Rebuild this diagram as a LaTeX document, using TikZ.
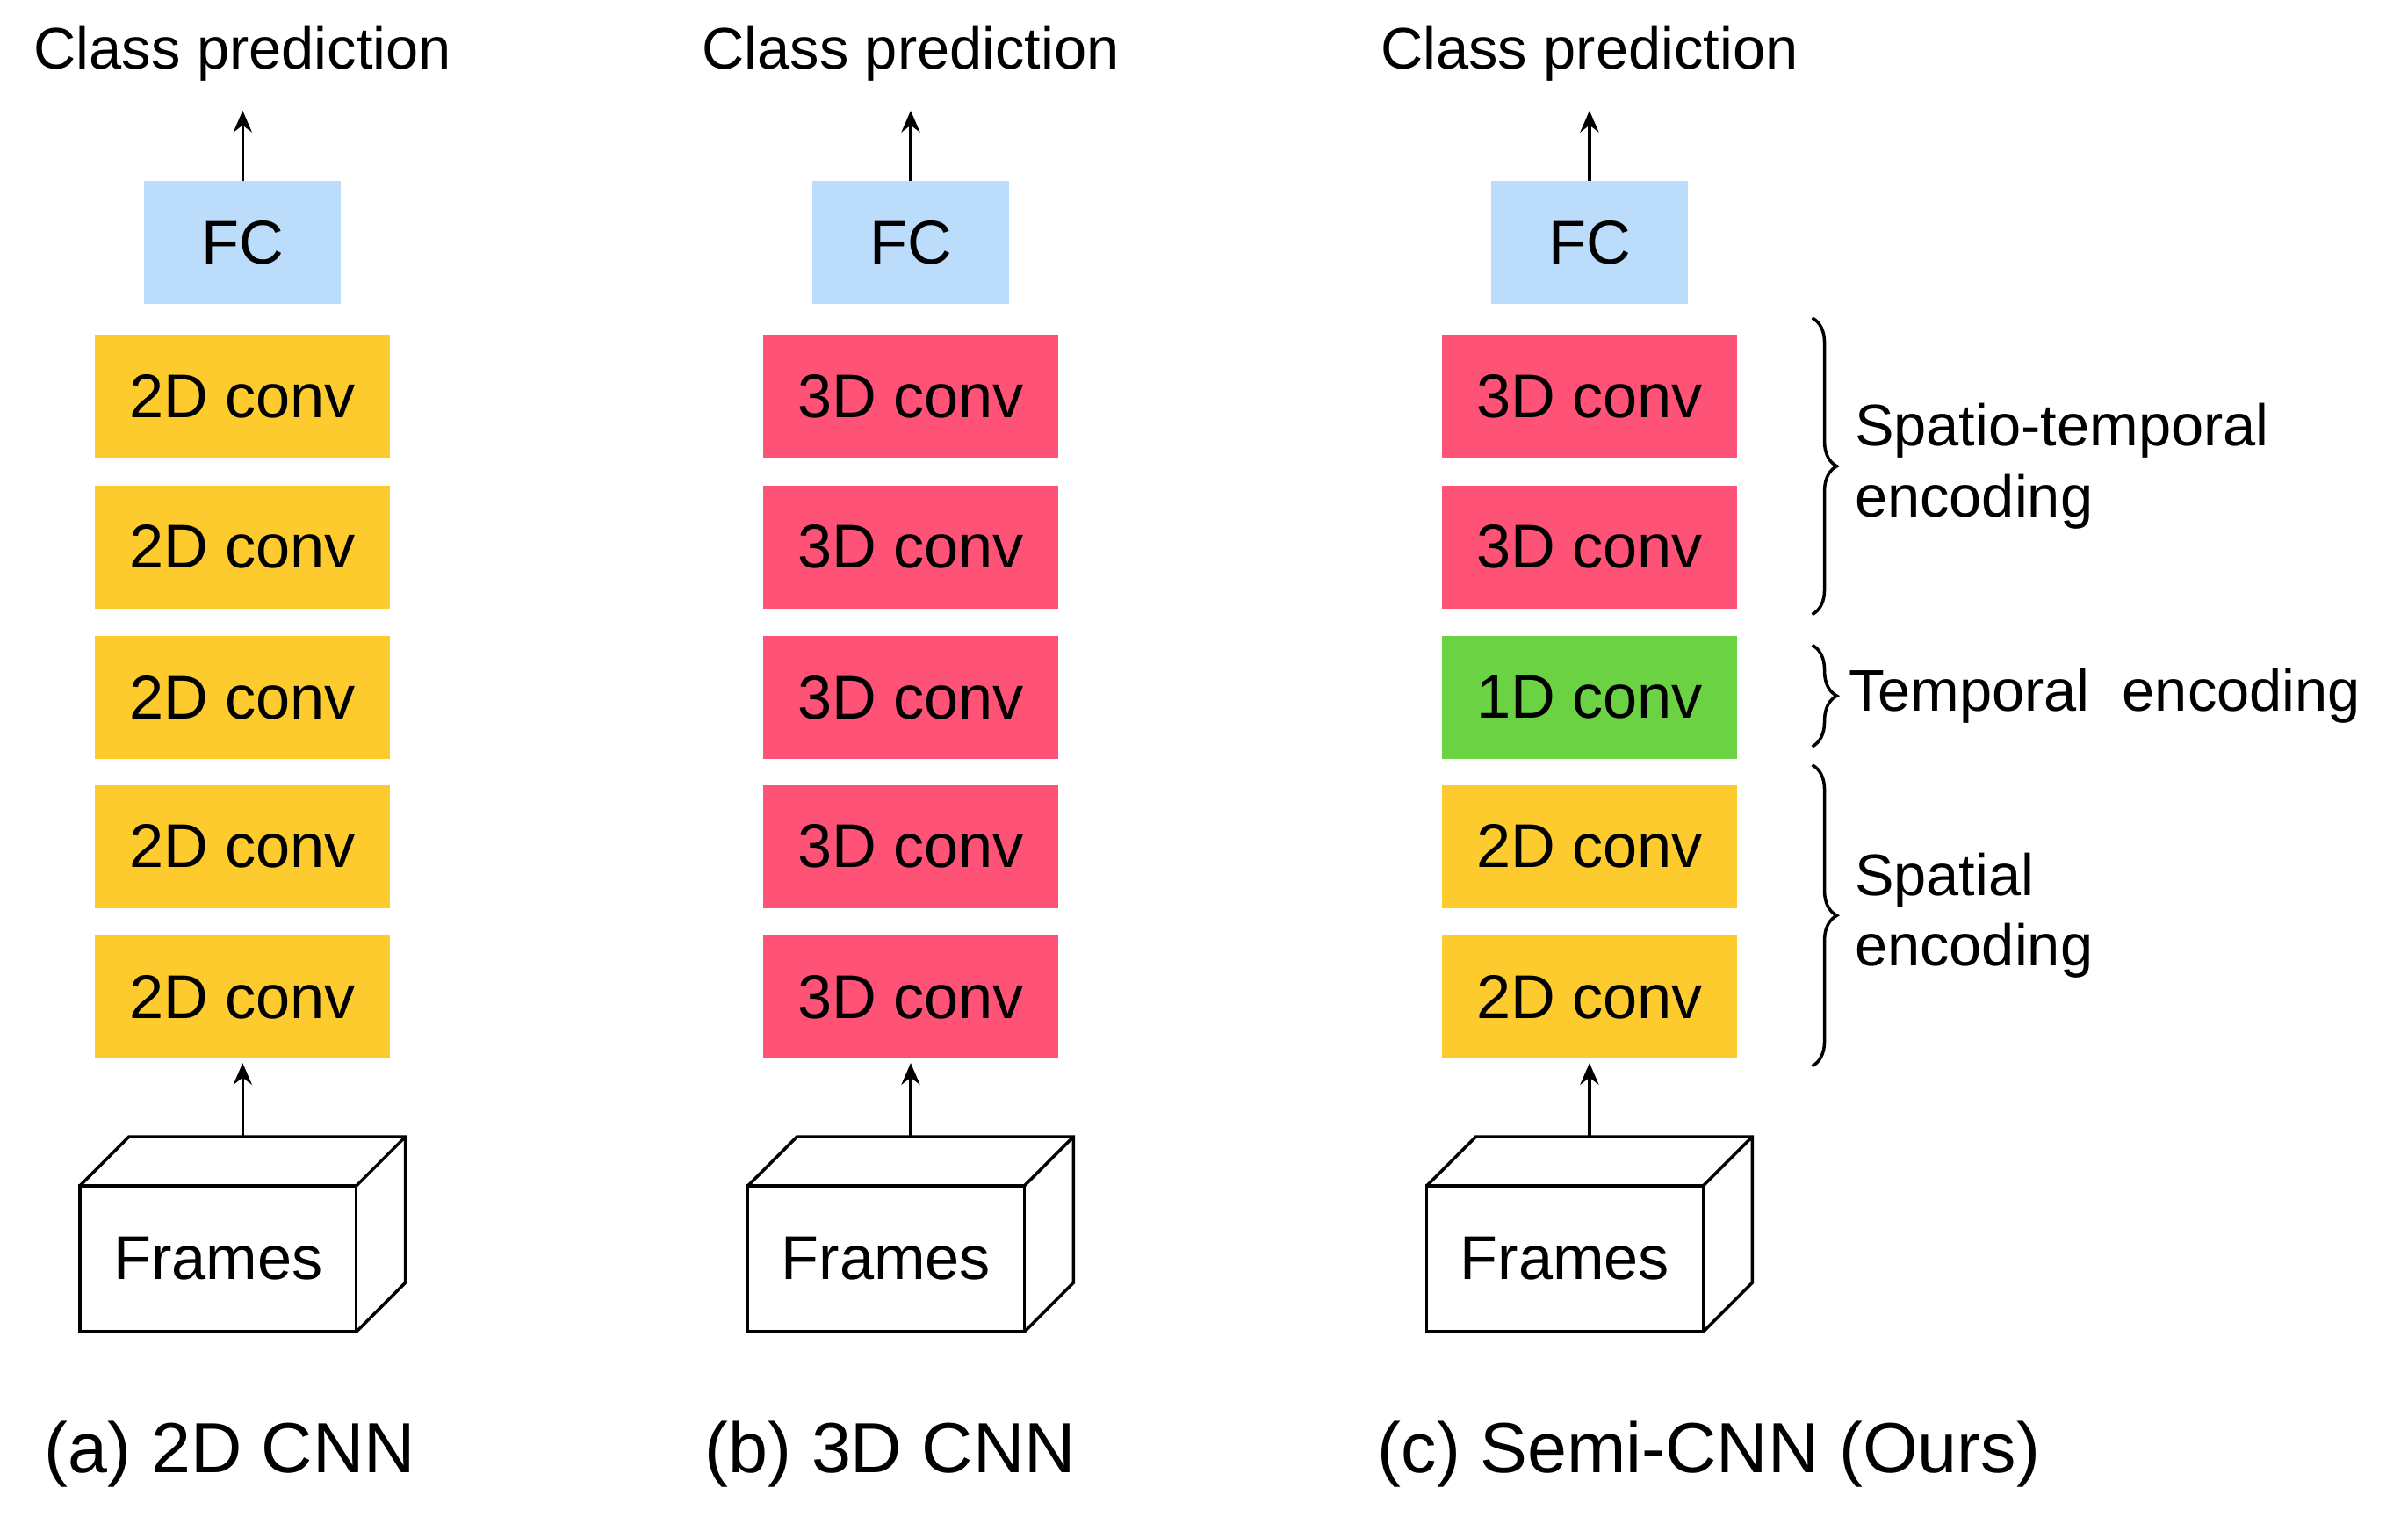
\documentclass[tikz,border=0pt]{standalone}
\usepackage{fontspec}
\setmainfont{Liberation Sans}
\usetikzlibrary{decorations.pathreplacing,arrows.meta}
\definecolor{cyel}{HTML}{FECB2F}
\definecolor{cred}{HTML}{FF5277}
\definecolor{cgrn}{HTML}{6BD343}
\definecolor{cblu}{HTML}{BBDDFB}
\begin{document}
\begin{tikzpicture}[x=0.01749cm,y=-0.01749cm,
  conv/.style={minimum width=3.358cm,minimum height=1.399cm,inner sep=0,font=\fontsize{20}{24}\selectfont},
  fc/.style={fill=cblu,minimum width=2.239cm,minimum height=1.399cm,inner sep=0,font=\fontsize{20}{24}\selectfont},
  lbl/.style={font=\fontsize{19}{23}\selectfont},
  captn/.style={font=\fontsize{23}{27}\selectfont,anchor=west},
  arr/.style={-{Stealth[length=7pt,width=6pt]},line width=1pt},
  br/.style={decorate,decoration={brace,amplitude=8pt},line width=1pt}]
\useasboundingbox (0,0) rectangle (1568,987);
\foreach \n/\cx/\ca/\cb/\cc/\cd/\ce/\ta/\tb/\tc/\td/\te/\capt/\capx in {
  a/158/cyel/cyel/cyel/cyel/cyel/2D/2D/2D/2D/2D/{(a) 2D CNN}/22,
  b/593/cred/cred/cred/cred/cred/3D/3D/3D/3D/3D/{(b) 3D CNN}/452,
  c/1035/cred/cred/cgrn/cyel/cyel/3D/3D/1D/2D/2D/{(c) Semi-CNN (Ours)}/890}{
  \node[lbl] (cp\n) at (\cx,35) {Class prediction};
  \node[fc] (fc\n) at (\cx,158) {FC};
  \node[conv,fill=\ca] (c1\n) at (\cx,258) {\ta\ conv};
  \node[conv,fill=\cb] (c2\n) at (\cx,356) {\tb\ conv};
  \node[conv,fill=\cc] (c3\n) at (\cx,454) {\tc\ conv};
  \node[conv,fill=\cd] (c4\n) at (\cx,551) {\td\ conv};
  \node[conv,fill=\ce] (c5\n) at (\cx,649) {\te\ conv};
  \draw[line width=1pt] (\cx-106,772) -- (\cx-74,740) -- (\cx+106,740) -- (\cx+106,835) -- (\cx+74,867)
     (\cx+74,772) -- (\cx+106,740);
  \node[draw,line width=1pt,minimum width=3.148cm,minimum height=1.662cm,inner sep=0,
        font=\fontsize{20}{24}\selectfont] (fr\n) at (\cx-16,819.5) {Frames};
  \coordinate (ft\n) at (\cx,740);
  \draw[arr] (ft\n) -- (\cx,692);
  \draw[arr] (fc\n.north) -- (\cx,72);
  \node[captn] (cap\n) at (\capx,947) {\capt};
}
\draw[br] (1180,207) -- (1180,400) node[midway,right=10pt,align=left,lbl,anchor=west] (t1) {Spatio-temporal\\encoding};
\draw[br] (1180,420) -- (1180,486) node[midway,right=8pt,lbl,anchor=west] (t2) {Temporal~ encoding};
\draw[br] (1180,498) -- (1180,694) node[midway,right=10pt,align=left,lbl,anchor=west] (t3) {Spatial\\encoding};
\end{tikzpicture}
\end{document}
